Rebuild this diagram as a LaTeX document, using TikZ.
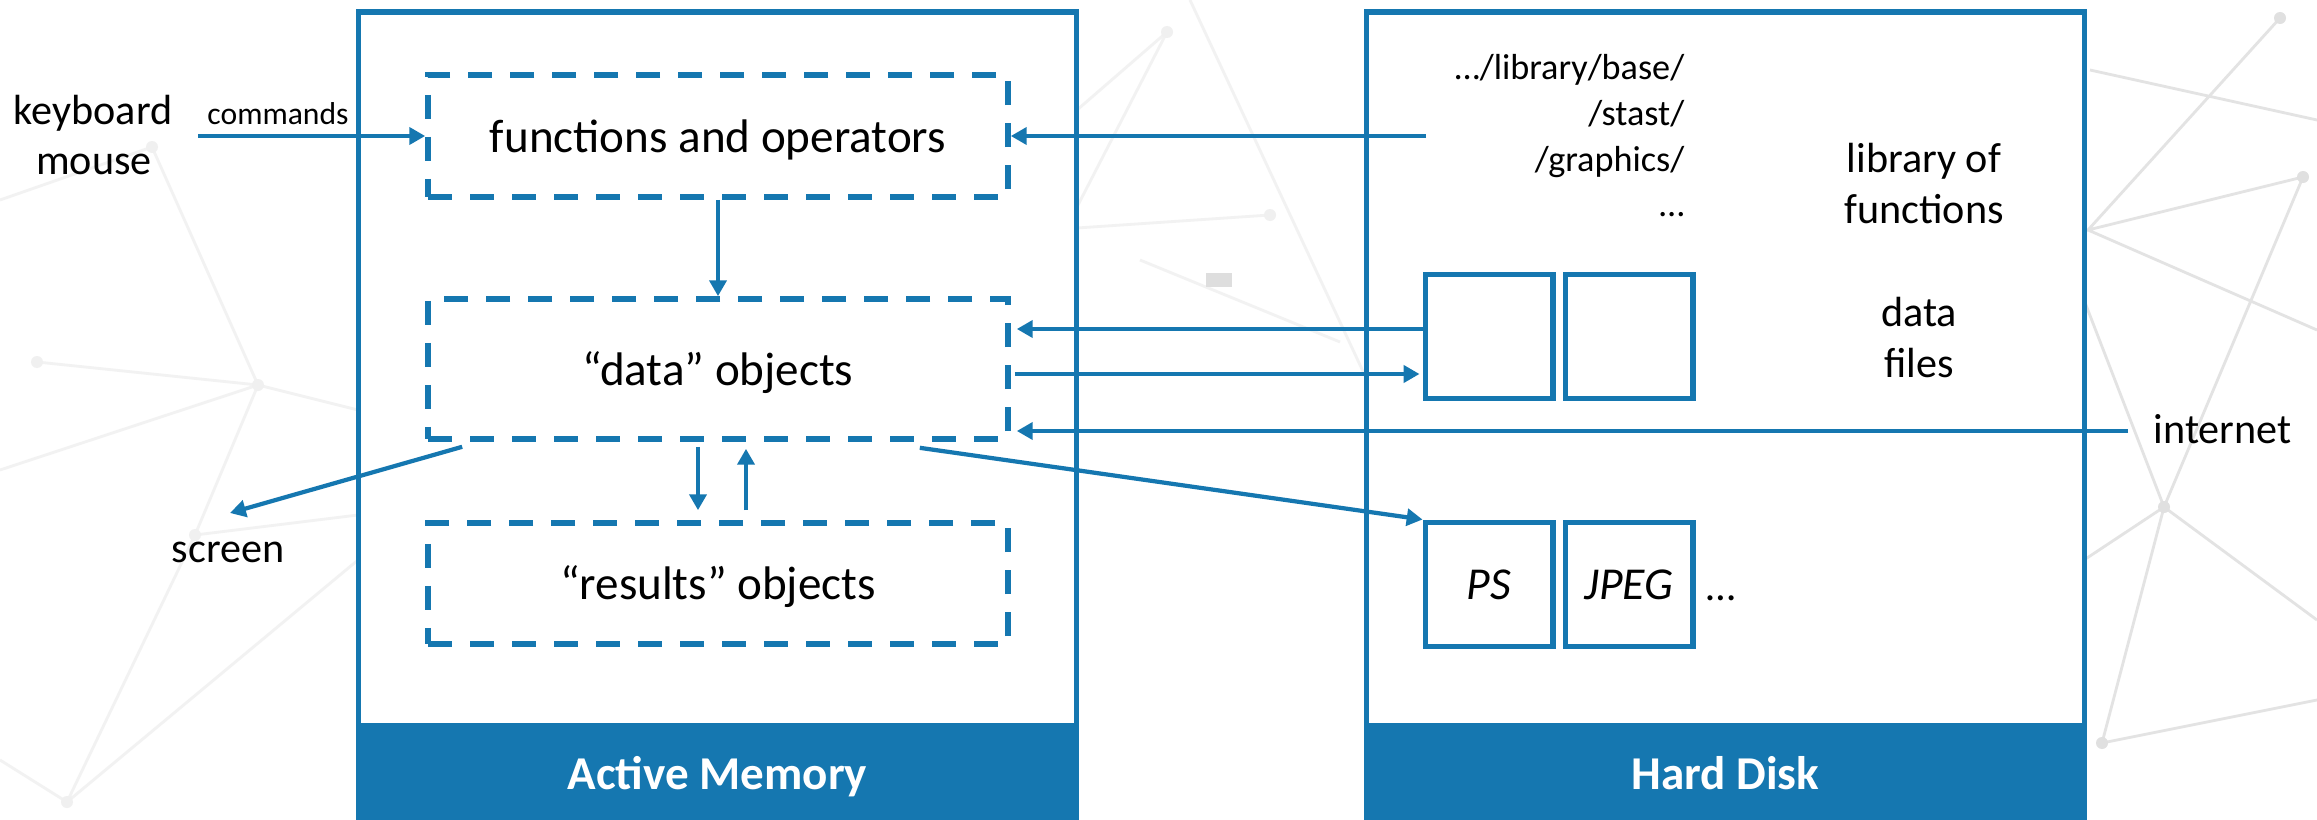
\documentclass[tikz,border=0pt]{standalone}
\usepackage{fontspec}
\setmainfont{Carlito}
\usetikzlibrary{arrows.meta}
\definecolor{rblue}{RGB}{21,119,176}

\begin{document}
\begin{tikzpicture}[
	membox/.style={draw=rblue,fill=white,line width=1.6pt,minimum width=7.18cm,minimum height=8.07cm},
	band/.style={draw=rblue,fill=rblue,line width=1.6pt,minimum width=7.18cm,minimum height=0.93cm,
		text=white,font=\bfseries\fontsize{13.4}{16}\selectfont,text height=3.3mm,text depth=0pt},
	objbox/.style={draw=rblue,line width=1.6pt,dash pattern=on 2.4mm off 1.8mm,minimum width=5.8cm,
		font=\fontsize{13.4}{16}\selectfont,text height=3.2mm,text depth=0pt},
	filebox/.style={draw=rblue,line width=1.7pt,minimum width=1.27cm,minimum height=1.24cm,
		font=\itshape\fontsize{13}{15}\selectfont,text height=2.9mm,text depth=0pt},
	link/.style={draw=rblue,line width=1.2pt,-{Triangle[length=4.5pt,width=4.8pt]}},
	lbl/.style={inner sep=0pt,anchor=base,font=\fontsize{12}{14}\selectfont},
	libline/.style={inner sep=0pt,anchor=base east,font=\fontsize{10.3}{12}\selectfont},
	bgline/.style={draw=black!5,line width=0.8pt},
	bgdot/.style={fill=black!6}
]
	\useasboundingbox[fill=white] (0,0) rectangle (23.17,8.19);

	% faint network in the background
	\coordinate (L1) at (1.52,6.72);
	\coordinate (L2) at (2.58,4.34);
	\coordinate (L3) at (0.37,4.57);
	\coordinate (L4) at (1.95,2.84);
	\coordinate (L5) at (0.67,0.17);
	\draw[bgline] (L1) -- (L2) (L3) -- (L2) -- (3.58,4.09) (L2) -- (0,3.49) (L2) -- (L4) -- (3.58,3.04)
		(L4) -- (L5) -- (3.58,2.59) (L1) -- (0,6.19) (L5) -- (0,0.59);
	\coordinate (M1) at (11.67,7.87);
	\coordinate (M2) at (12.70,6.04);
	\draw[bgline] (M1) -- (10.77,7.09) (M1) -- (10.77,6.12) (M2) -- (10.77,5.91)
		(11.90,8.19) -- (13.67,4.39) (11.40,5.59) -- (13.40,4.77);
	\fill[black!13] (12.06,5.32) rectangle (12.32,5.46);
	\coordinate (R1) at (22.80,8.01);
	\coordinate (R2) at (23.03,6.42);
	\coordinate (R3) at (21.64,3.12);
	\coordinate (R4) at (21.02,0.76);
	\draw[bgline,draw=black!11] (20.90,7.49) -- (23.17,6.99) (R1) -- (20.88,5.89) -- (R2) (20.88,5.89) -- (23.17,4.89)
		(20.84,5.19) -- (R3) -- (23.17,1.99) (R3) -- (R4) -- (23.17,1.19) (R2) -- (R3) -- (20.84,2.59);
	\foreach \p in {L1,L2,L3,L4,L5,M1,M2}
		\fill[bgdot] (\p) circle (0.06);
	\foreach \p in {R1,R2,R3,R4}
		\fill[bgdot,fill=black!12] (\p) circle (0.06);

	% the two stores
	\node[membox] (active) at (7.175,4.035) {};
	\node[membox] (disk) at (17.255,4.035) {};
	\node[band] (activeband) at (7.175,0.465) {Active Memory};
	\node[band] (diskband) at (17.255,0.465) {Hard Disk};

	% objects in memory
	\node[objbox,minimum height=1.22cm] (funcs) at (7.18,6.83) {functions and operators};
	\node[objbox,minimum height=1.40cm] (data) at (7.18,4.50) {“data” objects};
	\node[objbox,minimum height=1.21cm] (results) at (7.18,2.355) {“results” objects};

	% files on disk
	\node[filebox] (file1) at (14.89,4.825) {};
	\node[filebox] (file2) at (16.29,4.825) {};
	\node[filebox] (ps) at (14.89,2.345) {PS};
	\node[filebox] (jpeg) at (16.29,2.345) {JPEG};
	\node[lbl,anchor=base west] (more) at (17.06,2.19) {…};

	\node[libline] (libA) at (16.85,7.39) {…/library/base/};
	\node[libline] (libB) at (16.85,6.935) {/stast/};
	\node[libline] (libC) at (16.85,6.48) {/graphics/};
	\node[libline] (libD) at (16.85,6.025) {…};
	\node[lbl] (libof) at (19.24,6.46) {library of};
	\node[lbl] (libfun) at (19.24,5.96) {functions};
	\node[lbl] (dfdata) at (19.19,4.93) {data};
	\node[lbl] (dffiles) at (19.19,4.42) {files};

	% outside world
	\node[lbl] (keyboard) at (0.93,6.95) {keyboard};
	\node[lbl] (mouse) at (0.94,6.44) {mouse};
	\node[lbl,font=\fontsize{9}{11}\selectfont] (commands) at (2.78,6.95) {commands};
	\node[lbl] (screen) at (2.28,2.57) {screen};
	\node[lbl,anchor=base west] (internet) at (21.53,3.76) {internet};

	\coordinate (kbdout) at (1.98,6.83);
	\coordinate (libout) at (14.26,6.83);
	\coordinate (netend) at (21.28,3.88);
	\coordinate (scrtip) at (2.30,3.06);
	\coordinate (din) at ([yshift=4mm]data.east);
	\coordinate (dout) at ([yshift=-0.5mm]data.east);
	\coordinate (scrout) at ([xshift=3.7mm,yshift=-0.5mm]data.south west);
	\coordinate (psout) at ([xshift=-9.1mm,yshift=-0.6mm]data.south east);

	% connectors
	\draw[link] (kbdout) -- (funcs.west);
	\draw[link] (libout) -- (funcs.east);
	\draw[link] (funcs.south) -- (data.north);
	\draw[link,shorten >=0.6mm] (din -| file1.west) -- (din);
	\draw[link,shorten <=0.4mm,shorten >=0.3mm] (dout) -- (dout -| file1.west);
	\draw[link,shorten >=0.6mm] (netend) -- (netend -| data.east);
	\draw[link] (scrout) -- (scrtip);
	\draw[link] (psout) -- (ps.north west);
	\draw[link,shorten <=0.5mm,shorten >=1mm] ([xshift=-2mm]data.south) -- ([xshift=-2mm]results.north);
	\draw[link,shorten <=1mm,shorten >=0.7mm] ([xshift=2.8mm]results.north) -- ([xshift=2.8mm]data.south);
\end{tikzpicture}
\end{document}
